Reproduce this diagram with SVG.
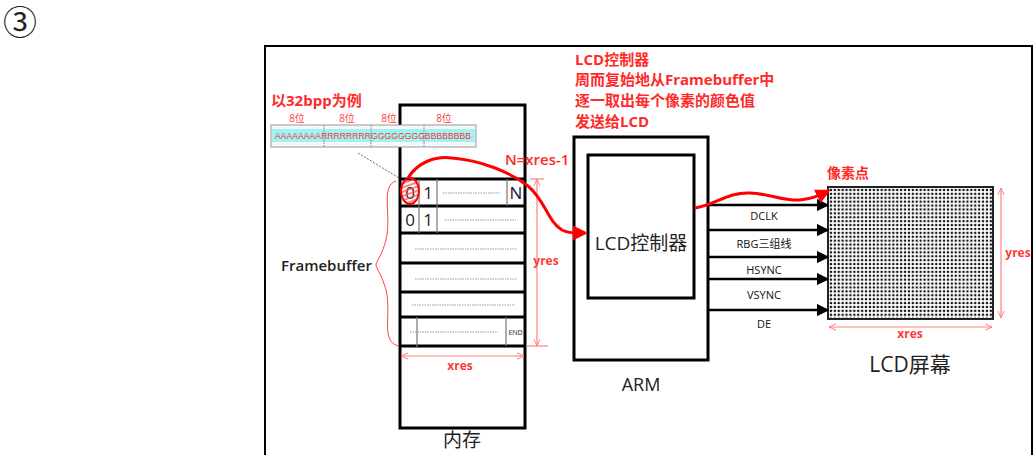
<svg xmlns="http://www.w3.org/2000/svg" width="1033" height="455" viewBox="0 0 1033 455">
  <style>
    .frame { fill: none; stroke: #000; stroke-width: 2; }
    .box { fill: #fff; stroke: #000; stroke-width: 3; }
    .thin { stroke: #777; stroke-width: 1.2; fill: none; }
    .dots { stroke: #999; stroke-width: 1; stroke-dasharray: 1.5 1; fill: none; }
    .red { fill: #ff2a2a; font-family: "Open Sans", "Noto Sans CJK SC", sans-serif; font-weight: bold; }
    .dim { stroke: #ff8080; stroke-width: 1.2; fill: none; }
    .dimtxt { fill: #ff3b3b; font-family: "Open Sans", "Noto Sans CJK SC", sans-serif; font-size: 12px; }
    .blk { fill: #222; font-family: "Open Sans", "Noto Sans CJK SC", sans-serif; }
    .sig { stroke: #000; stroke-width: 2.5; fill: none; marker-end: url(#arr); }
    .sigtxt { fill: #111; font-family: "Open Sans", "Noto Sans CJK SC", sans-serif; font-size: 11px; text-anchor: middle; }
    .redcurve { stroke: #f00; stroke-width: 3; fill: none; }
  </style>
  <defs>
    <marker id="arr" viewBox="0 0 10 10" refX="9" refY="5" markerWidth="5" markerHeight="5" orient="auto" markerUnits="strokeWidth">
      <path d="M0,0 L10,5 L0,10 z" fill="#000"/>
    </marker>
    <marker id="redarr" viewBox="0 0 10 10" refX="8" refY="5" markerWidth="5" markerHeight="5" orient="auto" markerUnits="strokeWidth">
      <path d="M0,0 L10,5 L0,10 z" fill="#f00"/>
    </marker>
    <marker id="dimarr" viewBox="0 0 10 10" refX="9" refY="5" markerWidth="8" markerHeight="8" orient="auto-start-reverse" markerUnits="userSpaceOnUse">
      <path d="M0,1 L9,5 L0,9" fill="none" stroke="#ff8080" stroke-width="1.2"/>
    </marker>
    <pattern id="pix" x="829" y="188" width="3.9" height="3.9" patternUnits="userSpaceOnUse">
      <rect width="3.9" height="3.9" fill="#fff"/>
      <circle cx="1.95" cy="1.95" r="1.25" fill="#111"/>
    </pattern>
    <pattern id="hatch" width="4" height="4" patternUnits="userSpaceOnUse" patternTransform="rotate(-20)">
      <line x1="0" y1="2" x2="4" y2="2" stroke="#f44" stroke-width="1.3"/>
    </pattern>
  </defs>

  <!-- figure number -->
  <text x="20" y="35" class="blk" font-size="34" text-anchor="middle" font-family="DejaVu Sans, sans-serif">③</text>

  <!-- outer frame -->
  <rect x="265" y="46" width="767" height="410" class="frame"/>

  <!-- memory -->
  <g id="memory">
    <rect x="400" y="105" width="125" height="323" class="box"/>
    <line x1="400" y1="179" x2="525" y2="179" stroke="#000" stroke-width="3"/>
    <line x1="400" y1="206" x2="525" y2="206" stroke="#000" stroke-width="3"/>
    <line x1="400" y1="233" x2="525" y2="233" stroke="#000" stroke-width="3"/>
    <line x1="400" y1="263" x2="525" y2="263" stroke="#000" stroke-width="3"/>
    <line x1="400" y1="292" x2="525" y2="292" stroke="#000" stroke-width="3"/>
    <line x1="400" y1="317" x2="525" y2="317" stroke="#000" stroke-width="3"/>
    <line x1="400" y1="346" x2="525" y2="346" stroke="#000" stroke-width="3"/>
    <!-- row 1 cells -->
    <line x1="419" y1="179" x2="419" y2="206" class="thin"/>
    <line x1="437" y1="179" x2="437" y2="206" class="thin"/>
    <line x1="507" y1="179" x2="507" y2="206" class="thin"/>
    <!-- row 2 cells -->
    <line x1="419" y1="206" x2="419" y2="233" class="thin"/>
    <line x1="437" y1="206" x2="437" y2="233" class="thin"/>
    <!-- last row -->
    <line x1="417" y1="317" x2="417" y2="348" class="thin"/>
    <line x1="506" y1="317" x2="506" y2="346" class="thin"/>
    <g class="blk" font-size="17">
      <text x="410" y="199" text-anchor="middle">0</text>
      <text x="428" y="199" text-anchor="middle">1</text>
      <text x="516" y="199" text-anchor="middle">N</text>
      <text x="410" y="226" text-anchor="middle">0</text>
      <text x="428" y="226" text-anchor="middle">1</text>
    </g>
    <text x="515.5" y="335" class="blk" font-size="7" text-anchor="middle">END</text>
    <line x1="443" y1="193" x2="500" y2="193" class="dots"/>
    <line x1="445" y1="220" x2="516" y2="220" class="dots"/>
    <line x1="415" y1="249" x2="517" y2="249" class="dots"/>
    <line x1="415" y1="279" x2="517" y2="279" class="dots"/>
    <line x1="412" y1="305" x2="515" y2="305" class="dots"/>
    <line x1="410" y1="332" x2="498" y2="332" class="dots"/>
    <text x="462" y="447" class="blk" font-size="19" text-anchor="middle">内存</text>
  </g>

  <!-- 32bpp pixel format -->
  <g id="pixel-format">
    <text x="271" y="106" class="red" font-size="15">以32bpp为例</text>
    <rect x="271" y="125" width="205" height="22" fill="#f4f8f8" stroke="#999" stroke-width="1"/>
    <rect x="272" y="129" width="203" height="13" fill="#9ff3f3"/>
    <line x1="324" y1="125" x2="324" y2="147" stroke="#666" stroke-width="0.8" stroke-dasharray="1.5 1"/>
    <line x1="371" y1="125" x2="371" y2="147" stroke="#666" stroke-width="0.8" stroke-dasharray="1.5 1"/>
    <line x1="424" y1="125" x2="424" y2="147" stroke="#666" stroke-width="0.8" stroke-dasharray="1.5 1"/>
    <text x="275" y="139" fill="#ff3030" font-family="Liberation Sans, sans-serif" font-size="9.5" textLength="196" lengthAdjust="spacingAndGlyphs">AAAAAAAARRRRRRRRGGGGGGGGBBBBBBBB</text>
    <g fill="#ff3b3b" font-family="Open Sans, Noto Sans CJK SC, sans-serif" font-size="10" text-anchor="middle">
      <text x="297" y="122">8位</text>
      <text x="347" y="122">8位</text>
      <text x="389" y="122">8位</text>
      <text x="444" y="122">8位</text>
    </g>
    <line x1="358" y1="153" x2="399" y2="178" stroke="#666" stroke-width="1" stroke-dasharray="2 1.5"/>
  </g>

  <!-- framebuffer brace and dimensions -->
  <g id="framebuffer-dims">
    <path d="M396,181 C380,186 392,215 386,240 C382,255 376,262 376,265 C376,268 382,275 386,290 C392,315 380,340 398,346" fill="none" stroke="#ff4040" stroke-width="1"/>
    <text x="281" y="271" class="blk" font-size="15" font-weight="600">Framebuffer</text>
    <line x1="537" y1="179" x2="537" y2="346" class="dim" marker-start="url(#dimarr)" marker-end="url(#dimarr)"/>
    <line x1="530" y1="179" x2="544" y2="179" class="dim"/>
    <line x1="526" y1="346" x2="548" y2="346" class="dim"/>
    <text x="546" y="265" class="dimtxt" font-size="13" font-weight="bold" text-anchor="middle">yres</text>
    <line x1="401" y1="356" x2="524" y2="356" class="dim" marker-start="url(#dimarr)" marker-end="url(#dimarr)"/>
    <text x="460" y="370" class="dimtxt" font-size="12" font-weight="bold" text-anchor="middle">xres</text>
  </g>

  <!-- ARM -->
  <g id="arm">
    <rect x="574" y="137" width="134" height="223" class="box"/>
    <text x="641" y="391" class="blk" font-size="18" text-anchor="middle">ARM</text>
  </g>
  <g id="lcd-controller">
    <rect x="588" y="155" width="106" height="143" class="box"/>
    <text x="641" y="250" class="blk" font-size="19" text-anchor="middle">LCD控制器</text>
  </g>
  <g id="controller-note" class="red" font-size="15">
    <text x="575" y="65">LCD控制器</text>
    <text x="575" y="85">周而复始地从Framebuffer中</text>
    <text x="575" y="106">逐一取出每个像素的颜色值</text>
    <text x="575" y="127">发送给LCD</text>
  </g>

  <!-- LCD screen -->
  <g id="lcd-screen">
    <rect x="828" y="187" width="165" height="132" fill="url(#pix)" stroke="#222" stroke-width="2"/>
    <text x="827" y="178" class="red" font-size="14">像素点</text>
    <line x1="1001" y1="188" x2="1001" y2="318" class="dim" marker-start="url(#dimarr)" marker-end="url(#dimarr)"/>
    <text x="1018" y="257" class="dimtxt" font-size="13" font-weight="bold" text-anchor="middle">yres</text>
    <line x1="829" y1="327" x2="992" y2="327" class="dim" marker-start="url(#dimarr)" marker-end="url(#dimarr)"/>
    <text x="910" y="338" class="dimtxt" font-size="12" font-weight="bold" text-anchor="middle">xres</text>
    <text x="910" y="372" class="blk" font-size="21" text-anchor="middle">LCD屏幕</text>
  </g>

  <!-- connectors -->
  <g id="connectors">
    <line x1="708" y1="205" x2="828" y2="205" class="sig"/>
    <line x1="708" y1="230" x2="828" y2="230" class="sig"/>
    <line x1="708" y1="257" x2="828" y2="257" class="sig"/>
    <line x1="708" y1="279" x2="828" y2="279" class="sig"/>
    <line x1="708" y1="310" x2="828" y2="310" class="sig"/>
    <text x="764" y="220" class="sigtxt">DCLK</text>
    <text x="764" y="248" class="sigtxt">RBG三组线</text>
    <text x="764" y="274" class="sigtxt">HSYNC</text>
    <text x="764" y="299" class="sigtxt">VSYNC</text>
    <text x="764" y="328" class="sigtxt">DE</text>

    <!-- scan path from framebuffer to controller -->
    <ellipse cx="410" cy="191" rx="9" ry="13" fill="url(#hatch)" stroke="#f00" stroke-width="2"/>
    <path d="M408,178 C418,162 435,156 452,158 C480,160 510,172 528,186 C545,200 548,222 562,230 C570,234 578,233 585,233" class="redcurve" marker-end="url(#redarr)"/>
    <text x="505" y="165" fill="#ff2a2a" font-family="Open Sans, sans-serif" font-size="15" font-weight="600">N=xres-1</text>

    <!-- output path from controller to screen -->
    <path d="M695,208 C715,205 728,192 750,193 C772,194 782,201 800,200 C812,199 820,195 828,191" class="redcurve" marker-end="url(#redarr)"/>
  </g>
</svg>
